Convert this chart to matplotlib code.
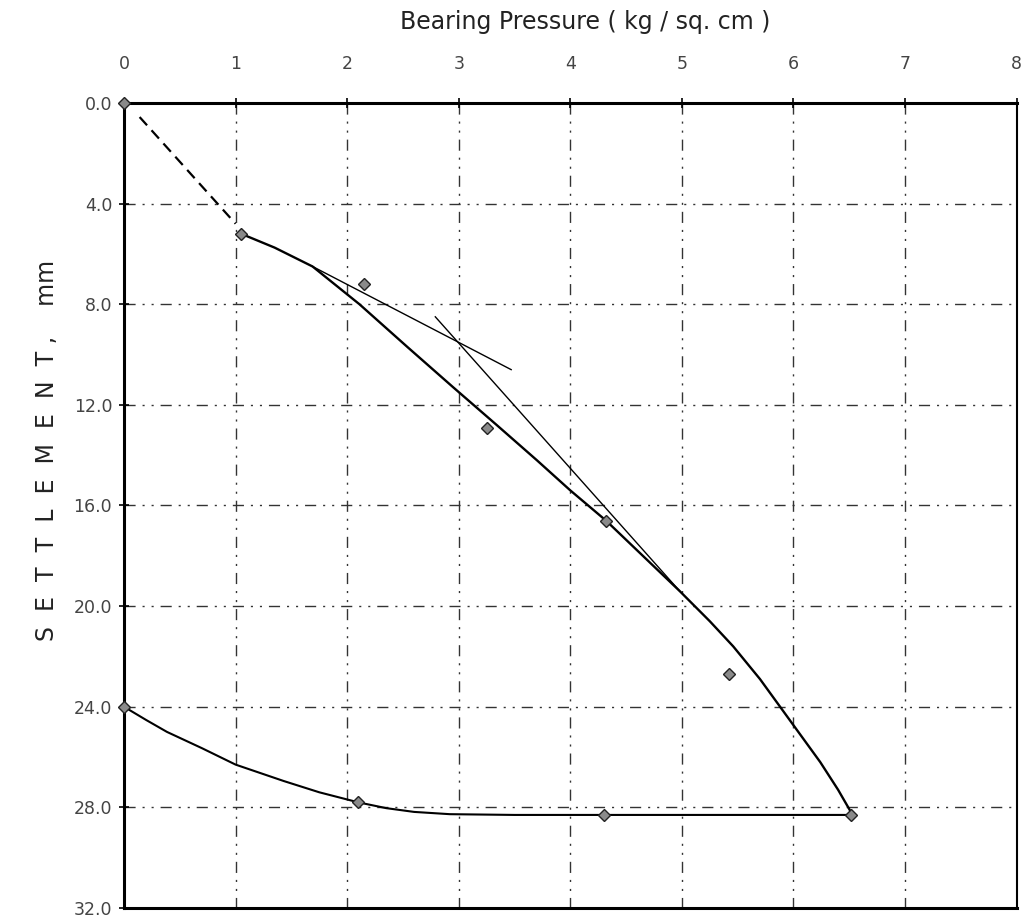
import matplotlib
matplotlib.use('Agg')
import matplotlib.pyplot as plt

plt.rcParams['font.family'] = ['DejaVu Sans']

# loading test points
load_x = [0.0, 1.05, 2.15, 3.25, 4.32, 5.42, 6.52]
load_y = [0.0, 5.2, 7.2, 12.9, 16.6, 22.7, 28.3]
# loading curve
curve_x = [1.05, 1.35, 1.69, 2.11, 2.54, 2.95, 3.34, 3.7, 4.0, 4.32, 4.65, 4.98,
           5.25, 5.46, 5.7, 5.88, 6.06, 6.24, 6.4, 6.53]
curve_y = [5.2, 5.75, 6.5, 8.0, 9.7, 11.3, 12.8, 14.2, 15.4, 16.6, 18.0, 19.4,
           20.6, 21.6, 22.9, 24.0, 25.1, 26.2, 27.3, 28.3]

# unloading points
unload_x = [4.3, 2.1, 0.0]
unload_y = [28.3, 27.8, 24.0]
ucurve_x = [6.53, 4.3, 3.5, 2.92, 2.6, 2.35, 2.1, 1.75, 1.43, 1.0, 0.7, 0.385, 0.2, 0.0]
ucurve_y = [28.3, 28.3, 28.3, 28.27, 28.18, 28.03, 27.8, 27.4, 26.95, 26.3, 25.65, 25.0, 24.53, 24.0]

# construction lines
tan1_x, tan1_y = [1.69, 3.47], [6.5, 10.6]
tan2_x, tan2_y = [2.79, 4.98], [8.5, 19.4]
dash_x, dash_y = [0.14, 1.0], [0.56, 4.8]

xticks = list(range(0, 9))
yticks = [0, 4, 8, 12, 16, 20, 24, 28, 32]

fig = plt.figure(figsize=(10.3, 9.21), dpi=100)
ax = fig.add_axes([0.1204, 0.0141, 0.8666, 0.8741])

grid_ls = (0, (8, 5, 1.5, 5, 1.5, 5))
for x in xticks[1:-1]:
    ax.plot([x, x], [0, 32], color='#333333', lw=1.0, ls=grid_ls, zorder=1)
for y in yticks[1:-1]:
    ax.plot([0, 8], [y, y], color='#333333', lw=1.0, ls=grid_ls, zorder=1)

ax.plot(curve_x, curve_y, color='black', lw=1.7, zorder=3)
ax.plot(ucurve_x, ucurve_y, color='black', lw=1.5, zorder=3)
ax.plot(tan1_x, tan1_y, color='black', lw=1.0, zorder=3)
ax.plot(tan2_x, tan2_y, color='black', lw=1.0, zorder=3)
ax.plot(dash_x, dash_y, color='black', lw=1.6, ls=(0, (5, 3)), zorder=3)

ax.plot(load_x, load_y, ls='none', marker='D', ms=6.5, mfc='#8a8a8a',
        mec='#222222', mew=1.0, zorder=4, clip_on=False)
ax.plot(unload_x, unload_y, ls='none', marker='D', ms=6.5, mfc='#8a8a8a',
        mec='#222222', mew=1.0, zorder=4, clip_on=False)

ax.set_xlim(0, 8)
ax.set_ylim(32, 0)
ax.xaxis.tick_top()
ax.set_xticks(xticks)
ax.set_xticklabels([str(v) for v in xticks])
ax.set_yticks(yticks)
ax.set_yticklabels(['%.1f' % v for v in yticks])
ax.tick_params(axis='both', labelsize=12.5, labelcolor='#444444', direction='inout',
               length=7, width=1.2, color='black')
ax.tick_params(axis='x', pad=18)
ax.tick_params(axis='y', pad=5)

fig.text(585 / 1030, 1 - 22 / 921, 'Bearing Pressure ( kg / sq. cm )', fontsize=17,
         color='#222222', ha='center', va='center')
fig.text(47 / 1030, 1 - 450 / 921, 'S  E  T  T  L  E  M  E  N  T ,    mm', fontsize=17,
         color='#222222', ha='center', va='center', rotation=90)

for s in ['top', 'left', 'bottom']:
    ax.spines[s].set_linewidth(2.2)
ax.spines['right'].set_linewidth(1.5)

fig.savefig('out.png', dpi=100)
